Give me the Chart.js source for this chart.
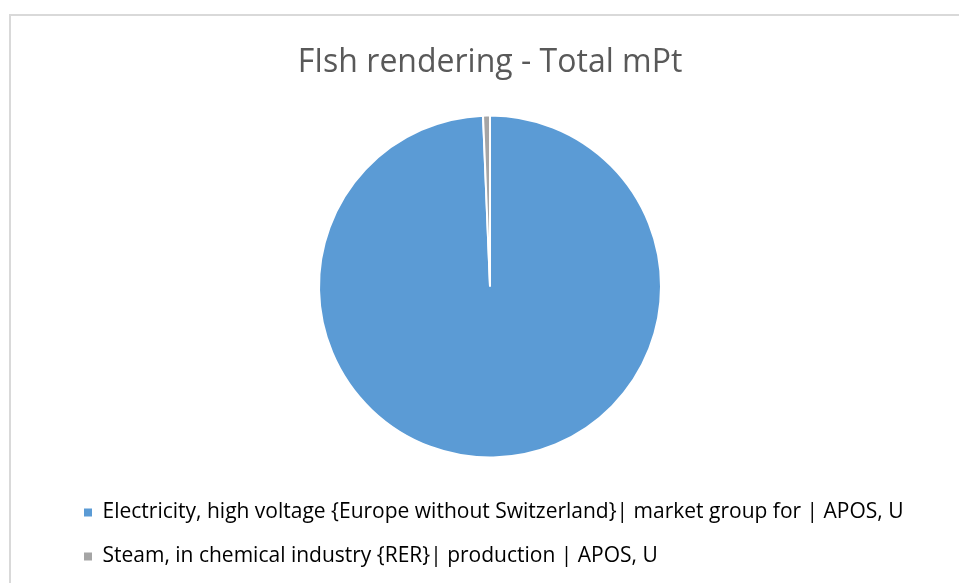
<!DOCTYPE html>
<html>
<head>
<meta charset="utf-8">
<script src="https://cdn.jsdelivr.net/npm/chart.js@4"></script>
<style>
  html, body { margin: 0; padding: 0; background: #fff; overflow: hidden; }
  #frame {
    position: absolute; left: 9px; top: 14px;
    width: 962px; height: 600px;
    border: 2px solid #d9d9d9; box-sizing: border-box;
  }
  #wrap { position: absolute; left: 0; top: 0; width: 958px; height: 576px; }
</style>
</head>
<body>
<div id="frame">
  <div id="wrap"><canvas id="pieChart"></canvas></div>
</div>
<script>
const categories = [
    'Electricity, high voltage {Europe without Switzerland}| market group for | APOS, U',
    'Steam, in chemical industry {RER}| production | APOS, U'
];
const totalMPt = [99.35, 0.65];
const sliceColors = ['#5b9bd5', '#a5a5a5'];

document.addEventListener('DOMContentLoaded', function() {
    const ctx = document.getElementById('pieChart').getContext('2d');
    const pieChart = new Chart(ctx, {
        type: 'pie',
        data: {
            labels: categories,
            datasets: [{
                data: totalMPt,
                backgroundColor: sliceColors,
                borderColor: '#ffffff',
                borderWidth: 2,
                radius: 171
            }]
        },
        options: {
            responsive: true,
            maintainAspectRatio: false,
            animation: false,
            layout: {
                padding: { left: 50, right: 50, top: 20, bottom: 15 }
            },
            plugins: {
                title: {
                    display: true,
                    text: 'FIsh rendering - Total mPt',
                    color: '#595959',
                    font: { family: 'Open Sans', size: 32, weight: 'normal' },
                    padding: { top: 8, bottom: 11.6 }
                },
                legend: {
                    position: 'bottom',
                    align: 'start',
                    labels: {
                        color: '#595959',
                        font: { family: 'Open Sans', size: 21 },
                        boxWidth: 8,
                        boxHeight: 8,
                        padding: 23,
                        generateLabels: function(chart) {
                            return chart.data.labels.map((label, i) => ({
                                text: label,
                                fillStyle: sliceColors[i],
                                strokeStyle: sliceColors[i],
                                lineWidth: 0,
                                index: i
                            }));
                        }
                    }
                },
                tooltip: { enabled: false }
            }
        }
    });
});
</script>
</body>
</html>
